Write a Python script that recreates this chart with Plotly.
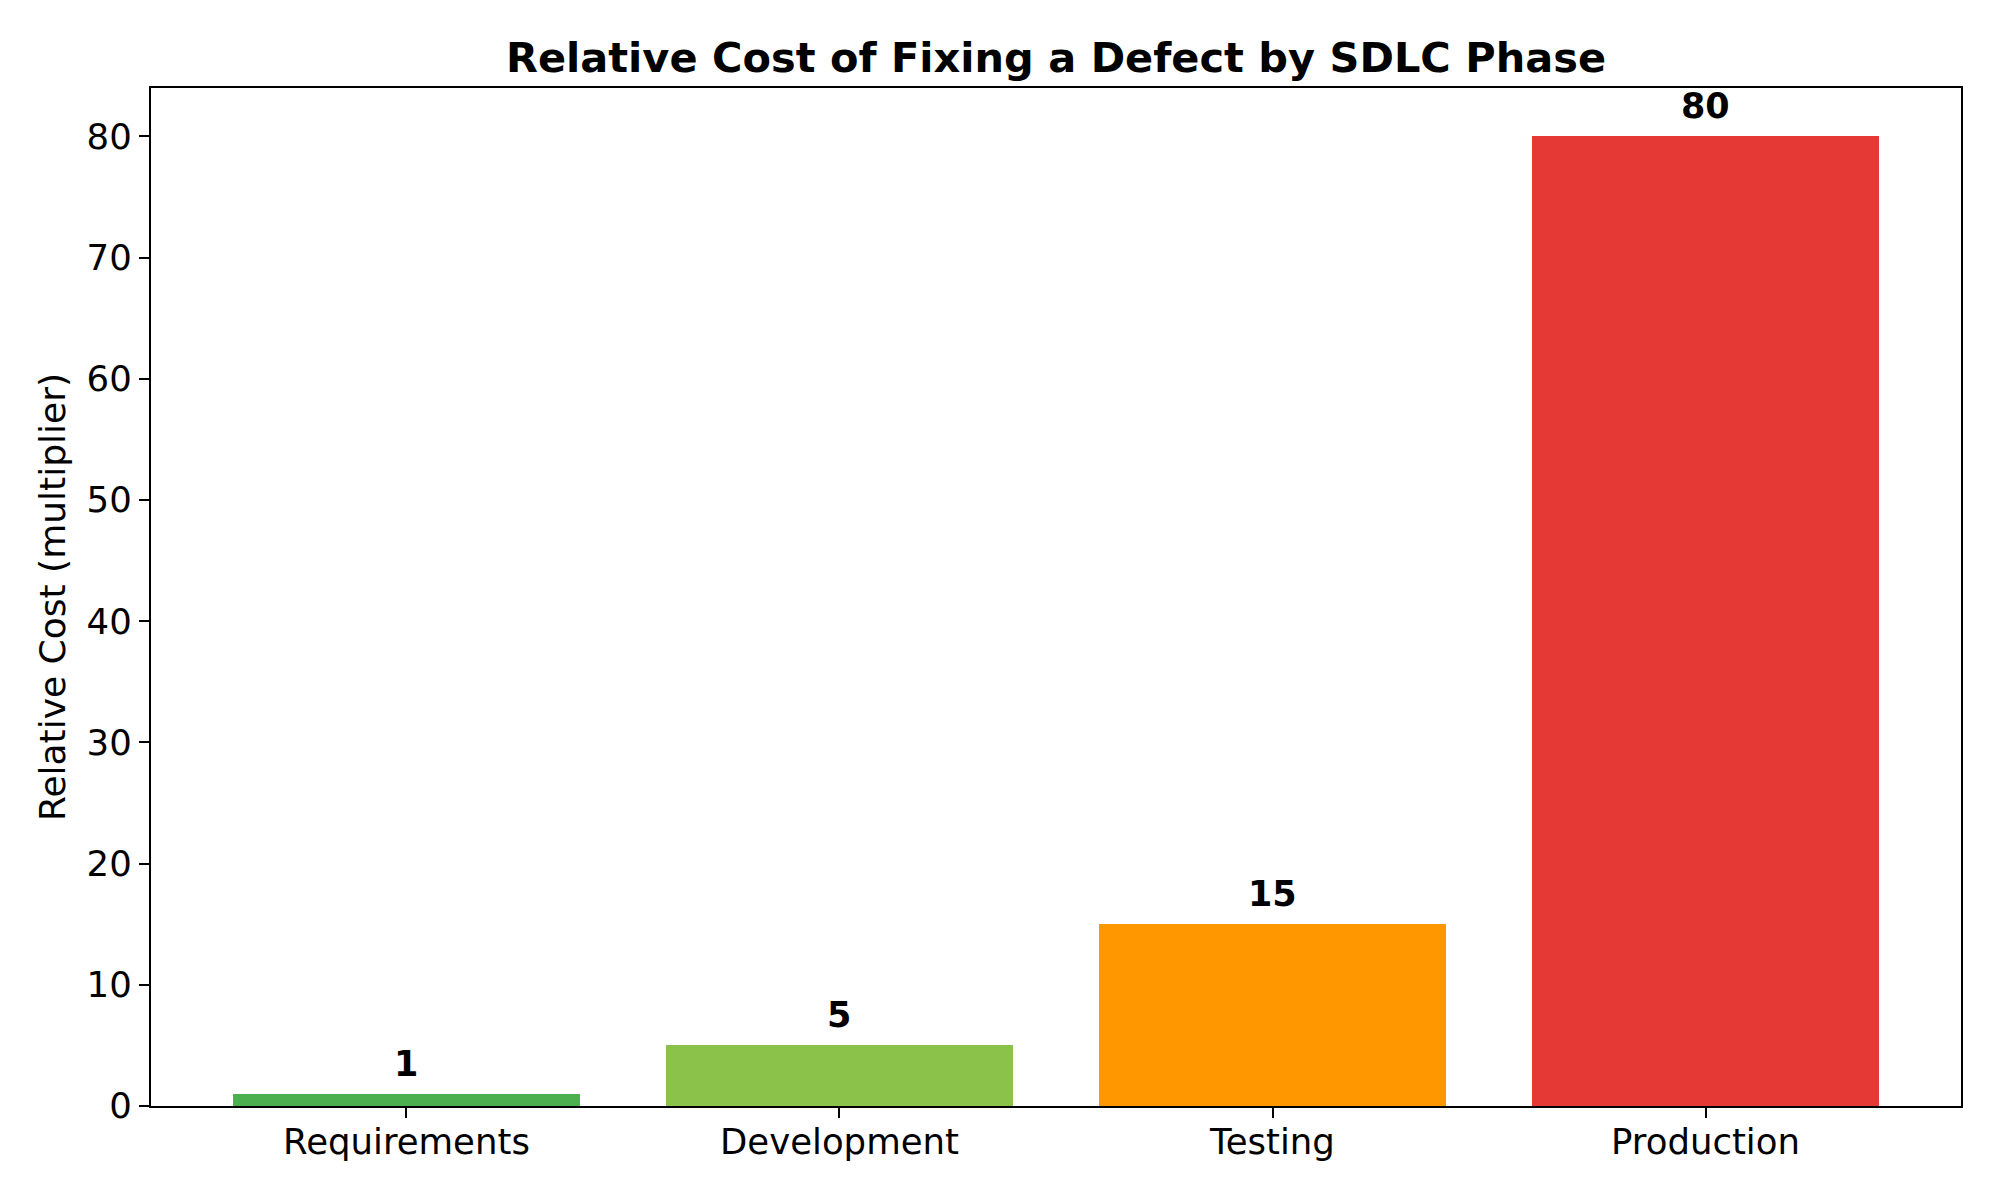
import plotly.graph_objects as go

phases = ["Requirements", "Development", "Testing", "Production"]
costs = [1, 5, 15, 80]
colors = ["#4CAF50", "#8BC34A", "#FF9800", "#E53935"]
title_text = "Relative Cost of Fixing a Defect by SDLC Phase"
ylabel = "Relative Cost (multiplier)"
yticks = [0, 10, 20, 30, 40, 50, 60, 70, 80]

FONT = "DejaVu Sans"

fig = go.Figure()
fig.add_trace(go.Bar(
    x=list(range(len(phases))), y=costs, marker=dict(color=colors, line=dict(width=0)),
    width=0.8, showlegend=False,
))

for i, v in enumerate(costs):
    fig.add_annotation(
        x=i, y=v, text=str(v), showarrow=False, yanchor="bottom", xanchor="center",
        yshift=8, font=dict(family=FONT, size=35, color="black", weight="bold"),
    )

axis_common = dict(
    showline=True, linecolor="black", linewidth=2.2, mirror=True,
    ticks="outside", ticklen=10, tickwidth=2.2, tickcolor="black",
    showgrid=False, zeroline=False,
    tickfont=dict(family=FONT, size=35.5, color="black"),
)

fig.update_layout(
    width=2000, height=1200,
    margin=dict(l=151, r=39, t=88, b=94),
    plot_bgcolor="white", paper_bgcolor="white",
    title=dict(
        text=title_text, x=0.5, xref="paper", xanchor="center",
        y=1 - 57 / 1200, yref="container", yanchor="middle",
        font=dict(family=FONT, size=41.5, color="black", weight="bold"),
    ),
    xaxis=dict(
        range=[-0.59, 3.59], tickmode="array",
        tickvals=list(range(len(phases))), ticktext=phases,
        ticklabelstandoff=-7, **axis_common,
    ),
    yaxis=dict(
        range=[0, 84], tickmode="array", tickvals=yticks,
        ticktext=[str(t) for t in yticks],
        title=dict(text=ylabel, font=dict(family=FONT, size=36, color="black"), standoff=10),
        **axis_common,
    ),
    bargap=0,
)

fig.write_html("out.html")
